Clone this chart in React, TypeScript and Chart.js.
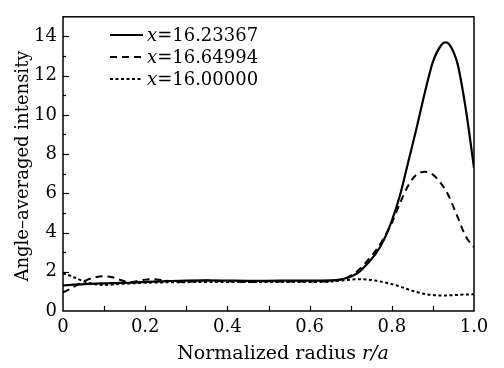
import React, { useEffect, useRef } from "react";
import { Chart, registerables } from "chart.js";

Chart.register(...registerables);

const R = [0, 0.02, 0.04, 0.06, 0.08, 0.1, 0.12, 0.14, 0.16, 0.18, 0.2, 0.22, 0.25, 0.3, 0.35, 0.4, 0.45, 0.5, 0.55, 0.6, 0.65, 0.68, 0.7, 0.72, 0.74, 0.76, 0.78, 0.8, 0.82, 0.84, 0.86, 0.88, 0.9, 0.92, 0.93, 0.94, 0.96, 0.98, 1.0];
const SOLID = [1.3, 1.33, 1.36, 1.38, 1.4, 1.41, 1.42, 1.43, 1.44, 1.46, 1.48, 1.5, 1.52, 1.55, 1.56, 1.55, 1.54, 1.54, 1.55, 1.55, 1.56, 1.63, 1.75, 1.98, 2.4, 2.9, 3.6, 4.6, 5.9, 7.6, 9.3, 11.1, 12.7, 13.55, 13.7, 13.6, 12.6, 10.3, 7.3];
const DASHED = [0.95, 1.15, 1.4, 1.6, 1.72, 1.77, 1.72, 1.58, 1.47, 1.52, 1.6, 1.62, 1.55, 1.48, 1.55, 1.52, 1.48, 1.52, 1.5, 1.5, 1.52, 1.62, 1.8, 2.1, 2.55, 3.05, 3.7, 4.5, 5.5, 6.4, 6.95, 7.1, 6.95, 6.5, 6.2, 5.8, 4.8, 3.8, 3.25];
const DOTTED = [1.92, 1.78, 1.6, 1.45, 1.36, 1.33, 1.35, 1.38, 1.4, 1.42, 1.44, 1.45, 1.46, 1.47, 1.48, 1.48, 1.48, 1.48, 1.48, 1.48, 1.5, 1.56, 1.6, 1.62, 1.6, 1.55, 1.47, 1.37, 1.25, 1.1, 0.97, 0.87, 0.81, 0.79, 0.79, 0.8, 0.82, 0.84, 0.85];

const SERIES_NAMES = ["=16.23367", "=16.64994", "=16.00000"];
const X_TICKS = [0, 0.2, 0.4, 0.6, 0.8, 1.0];
const Y_TICKS = [0, 2, 4, 6, 8, 10, 12, 14];
const X_TITLE = "Normalized radius ";
const X_TITLE_ITALIC = "r/a";
const Y_TITLE = "Angle\u2013averaged intensity";

const FONT = "'DejaVu Serif', serif";
const DASHES: number[][] = [[], [7, 5], [3, 2.5]];

const decoPlugin = {
  id: "deco",
  afterDraw(chart: any) {
    const ctx = chart.ctx as CanvasRenderingContext2D;
    const { left, right, top, bottom } = chart.chartArea;
    const xs = chart.scales.x;
    const ys = chart.scales.y;
    ctx.save();
    ctx.strokeStyle = "#000";
    ctx.fillStyle = "#000";
    ctx.lineWidth = 1.5;
    ctx.setLineDash([]);
    ctx.strokeRect(left, top, right - left, bottom - top);
    ctx.lineWidth = 1.2;
    for (let i = 1; i < 10; i++) {
      const px = Math.round(xs.getPixelForValue(i / 10)) + 0.5;
      ctx.beginPath();
      ctx.moveTo(px, bottom);
      ctx.lineTo(px, bottom - 5);
      ctx.stroke();
    }
    for (let v = 1; v <= 14; v++) {
      const py = Math.round(ys.getPixelForValue(v)) + 0.5;
      const len = v % 2 === 0 ? 6 : 3;
      ctx.beginPath();
      ctx.moveTo(left, py);
      ctx.lineTo(left + len, py);
      ctx.stroke();
    }
    // legend
    const lx0 = 110, lx1 = 143, tx = 147;
    const rows = [35, 57, 79];
    for (let i = 0; i < 3; i++) {
      const y = rows[i];
      ctx.lineWidth = 2;
      ctx.setLineDash(DASHES[i]);
      ctx.beginPath();
      ctx.moveTo(lx0, y);
      ctx.lineTo(lx1, y);
      ctx.stroke();
      ctx.setLineDash([]);
      ctx.textAlign = "left";
      ctx.textBaseline = "alphabetic";
      ctx.font = `italic 18px ${FONT}`;
      ctx.fillText("x", tx, y + 6);
      const w = ctx.measureText("x").width;
      ctx.font = `18px ${FONT}`;
      ctx.fillText(SERIES_NAMES[i], tx + w, y + 6);
    }
    // x title
    ctx.font = `19px ${FONT}`;
    const w1 = ctx.measureText(X_TITLE).width;
    ctx.font = `italic 19px ${FONT}`;
    const w2 = ctx.measureText(X_TITLE_ITALIC).width;
    const sx = 283 - (w1 + w2) / 2;
    ctx.font = `19px ${FONT}`;
    ctx.fillText(X_TITLE, sx, 359);
    ctx.font = `italic 19px ${FONT}`;
    ctx.fillText(X_TITLE_ITALIC, sx + w1, 359);
    // y title
    ctx.font = `18px ${FONT}`;
    ctx.translate(28, 166);
    ctx.rotate(-Math.PI / 2);
    ctx.textAlign = "center";
    ctx.fillText(Y_TITLE, 0, 0);
    ctx.restore();
  },
};

export default function App() {
  const ref = useRef<HTMLCanvasElement | null>(null);
  useEffect(() => {
    if (!ref.current) return;
    Chart.defaults.font.family = FONT;
    Chart.defaults.font.size = 18;
    Chart.defaults.color = "#000";
    const mk = (vals: number[]) => R.map((r, i) => ({ x: r, y: vals[i] }));
    const chart = new Chart(ref.current, {
      type: "line",
      data: {
        datasets: [
          { data: mk(SOLID), borderColor: "#000", borderWidth: 2.2, borderDash: DASHES[0], pointRadius: 0, cubicInterpolationMode: "monotone" },
          { data: mk(DASHED), borderColor: "#000", borderWidth: 2, borderDash: DASHES[1], pointRadius: 0, cubicInterpolationMode: "monotone" },
          { data: mk(DOTTED), borderColor: "#000", borderWidth: 2, borderDash: DASHES[2], pointRadius: 0, cubicInterpolationMode: "monotone" },
        ] as any,
      },
      options: {
        animation: false,
        responsive: false,
        maintainAspectRatio: false,
        layout: { padding: { top: 7, right: 30, left: 0, bottom: 0 } },
        plugins: { legend: { display: false }, tooltip: { enabled: false } },
        events: [],
        scales: {
          x: {
            type: "linear",
            min: 0,
            max: 1,
            grid: { display: false, drawTicks: false },
            border: { display: false },
            ticks: {
              padding: 6,
              maxRotation: 0,
              callback: (v: any) => (Number(v) === 0 ? "0" : Number(v).toFixed(1)),
            },
            afterBuildTicks: (s: any) => {
              s.ticks = X_TICKS.map((v) => ({ value: v }));
            },
            afterFit: (s: any) => {
              s.height = 57;
            },
          },
          y: {
            type: "linear",
            min: 0,
            max: 15,
            grid: { display: false, drawTicks: false },
            border: { display: false },
            ticks: { padding: 6, callback: (v: any) => String(v) },
            afterBuildTicks: (s: any) => {
              s.ticks = Y_TICKS.map((v) => ({ value: v }));
            },
            afterFit: (s: any) => {
              s.width = 63;
            },
          },
        },
      } as any,
      plugins: [decoPlugin],
    });
    return () => chart.destroy();
  }, []);
  return (
    <div style={{ position: "fixed", left: 0, top: 0, width: 504, height: 368, background: "#fff" }}>
      <canvas ref={ref} width={504} height={368} style={{ width: 504, height: 368, display: "block" }} />
    </div>
  );
}
